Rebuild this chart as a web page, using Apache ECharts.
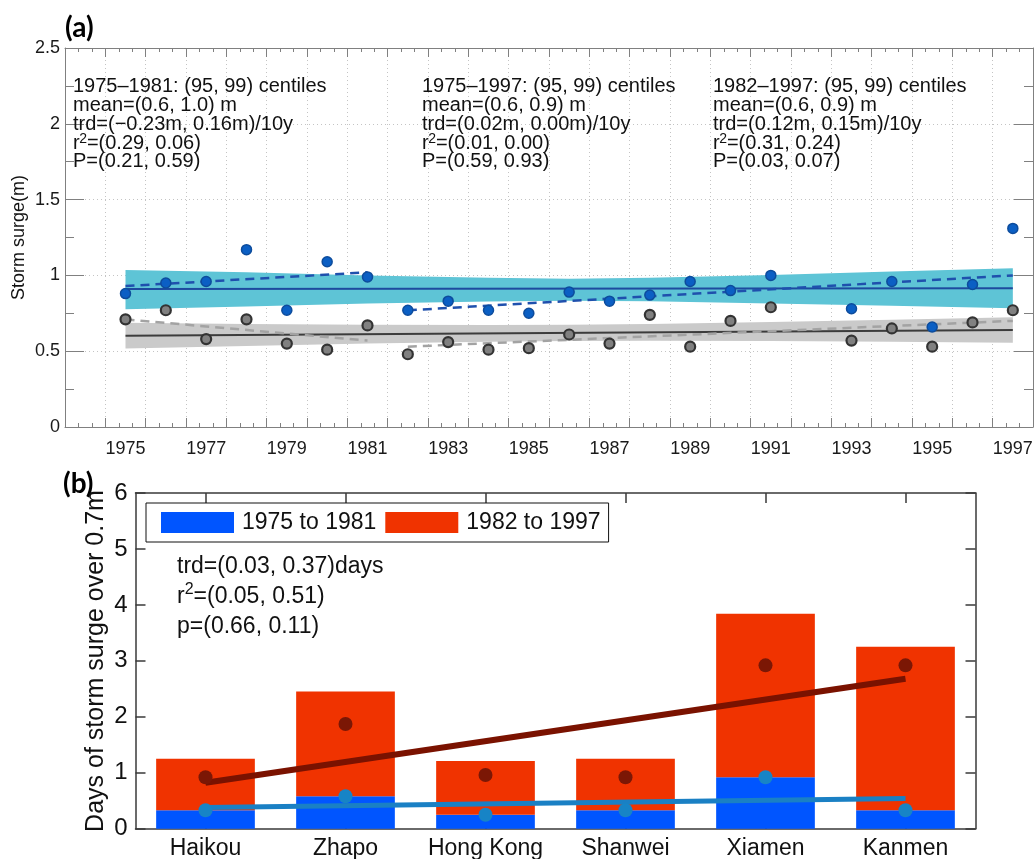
<!DOCTYPE html>
<html>
<head>
<meta charset="utf-8">
<script src="https://cdn.jsdelivr.net/npm/echarts@6/dist/echarts.min.js"></script>
<style>
html, body { margin: 0; padding: 0; background: #fff; }
#chart { width: 1035px; height: 859px; }
</style>
</head>
<body>
<div id="chart"></div>
<script>
// ---------- Panel (a): annual 95th / 99th centile storm surge ----------
const years = [1975, 1976, 1977, 1978, 1979, 1980, 1981, 1982, 1983, 1984, 1985,
               1986, 1987, 1988, 1989, 1990, 1991, 1993, 1994, 1995, 1996, 1997];
const p99 = [0.88, 0.95, 0.96, 1.17, 0.77, 1.09, 0.99, 0.77, 0.83, 0.77, 0.75,
             0.89, 0.83, 0.87, 0.96, 0.90, 1.00, 0.78, 0.96, 0.66, 0.94, 1.31];
const p95 = [0.71, 0.77, 0.58, 0.71, 0.55, 0.51, 0.67, 0.48, 0.56, 0.51, 0.52,
             0.61, 0.55, 0.74, 0.53, 0.70, 0.79, 0.57, 0.65, 0.53, 0.69, 0.77];

// whole-period fits (1975-1997)
const fitYears = [1975, 1997];
const fit99 = [0.910, 0.915];
const fit95 = [0.602, 0.640];
// sub-period fits
const earlyYears = [1975, 1981];
const early99 = [0.93, 1.02];
const early95 = [0.71, 0.57];
const lateYears = [1982, 1997];
const late99 = [0.77, 1.00];
const late95 = [0.53, 0.70];

// confidence bands of the whole-period fits
const bandYears = [1975, 1978, 1981, 1984, 1986, 1988, 1991, 1994, 1997];
const band99Upper = [1.036, 1.020, 1.000, 0.985, 0.978, 0.984, 1.003, 1.025, 1.047];
const band99Lower = [0.776, 0.795, 0.815, 0.828, 0.832, 0.830, 0.815, 0.800, 0.783];
const band95Upper = [0.687, 0.679, 0.674, 0.673, 0.675, 0.679, 0.692, 0.707, 0.724];
const band95Lower = [0.517, 0.535, 0.550, 0.563, 0.567, 0.569, 0.568, 0.563, 0.556];

const yearLabels = [1975, 1977, 1979, 1981, 1983, 1985, 1987, 1989, 1991, 1993, 1995, 1997];

// statistics blocks; {g|2} reserves room for the squared sign drawn raised
const statsEarly = ['1975\u20131981: (95, 99) centiles', 'mean=(0.6, 1.0) m',
  'trd=(\u22120.23m, 0.16m)/10y', 'r{g|2}=(0.29, 0.06)', 'P=(0.21, 0.59)'];
const statsAll = ['1975\u20131997: (95, 99) centiles', 'mean=(0.6, 0.9) m',
  'trd=(0.02m, 0.00m)/10y', 'r{g|2}=(0.01, 0.00)', 'P=(0.59, 0.93)'];
const statsLate = ['1982\u20131997: (95, 99) centiles', 'mean=(0.6, 0.9) m',
  'trd=(0.12m, 0.15m)/10y', 'r{g|2}=(0.31, 0.24)', 'P=(0.03, 0.07)'];

// ---------- Panel (b): days of storm surge over 0.7 m per station ----------
const stations = ['Haikou', 'Zhapo', 'Hong Kong', 'Shanwei', 'Xiamen', 'Kanmen'];
const days7581 = [0.33, 0.58, 0.25, 0.33, 0.92, 0.33];
const days8297 = [0.92, 1.87, 0.96, 0.92, 2.92, 2.92];
const trend7581 = [0.38, 0.54];   // fitted values at first / last station
const trend8297 = [0.82, 2.68];
const statsB = ['trd=(0.03, 0.37)days', 'r{s|2}=(0.05, 0.51)', 'p=(0.66, 0.11)'];

const FONT = '"Liberation Sans", Arial, Helvetica, sans-serif';
const frameA = '#808080';
const frameB = '#3a3a3a';

const pairs = (xs, ys) => xs.map((x, i) => [x, ys[i]]);
const endpoints = (vals) => stations.map((_, i) =>
  i === 0 ? vals[0] : (i === stations.length - 1 ? vals[1] : null));

function bandSeries(upper, lower, color) {
  return {
    type: 'custom', xAxisIndex: 0, yAxisIndex: 0, z: 1, silent: true,
    data: [[bandYears[0], upper[0]]],
    renderItem: function (params, api) {
      const top = bandYears.map((y, i) => api.coord([y, upper[i]]));
      const bottom = bandYears.map((y, i) => api.coord([y, lower[i]])).reverse();
      return { type: 'polygon', shape: { points: top.concat(bottom) }, style: { fill: color } };
    }
  };
}

function lineSeries(data, color, width, dashed, z) {
  return {
    type: 'line', xAxisIndex: 0, yAxisIndex: 0, data: data, symbol: 'none', z: z,
    lineStyle: { color: color, width: width, type: dashed ? [9, 6] : 'solid' }, silent: true
  };
}

function statsText(lines, x, y, size, lh, supSize, supLh) {
  return {
    type: 'text', x: x, y: y, z: 100,
    style: {
      text: lines.join('\n'), fontSize: size, fontFamily: FONT, fill: '#111',
      lineHeight: lh, align: 'left', verticalAlign: 'top', textAlign: 'left', textVerticalAlign: 'top',
      rich: {
        s: { fontSize: supSize, fontFamily: FONT, fill: '#111', lineHeight: supLh, verticalAlign: 'top' },
        g: { fontSize: supSize, fontFamily: FONT, fill: 'rgba(0,0,0,0)' }
      }
    }
  };
}

// raised "2" of r² in the panel (a) blocks (line 4 of each block)
function supText(x, y) {
  return {
    type: 'text', x: x, y: y, z: 101,
    style: { text: '2', fontSize: 14, fontFamily: FONT, fill: '#111',
             align: 'left', verticalAlign: 'top', textAlign: 'left', textVerticalAlign: 'top' }
  };
}

const valueAxisA = (pos) => ({
  gridIndex: 0, type: 'value', position: pos, min: 1973.5, max: 1997.5, interval: 1,
  axisLine: { show: true, onZero: false, lineStyle: { color: frameA, width: 1 } },
  axisTick: { show: true, inside: true, length: 9, lineStyle: { color: frameA } },
  minorTick: { show: true, splitNumber: 3, length: 4, lineStyle: { color: frameA } },
  axisLabel: pos === 'bottom'
    ? { show: true, customValues: yearLabels, margin: 13, fontSize: 18, color: '#1a1a1a', fontFamily: FONT,
        formatter: (v) => String(Math.round(v)) }
    : { show: false },
  splitLine: { show: pos === 'bottom', lineStyle: { color: '#c4c4c4', type: [1, 3], width: 1 } },
  minorSplitLine: { show: false }
});

const yAxisA = (pos) => ({
  gridIndex: 0, type: 'value', position: pos, min: 0, max: 2.5, interval: 0.5,
  axisLine: { show: true, onZero: false, lineStyle: { color: frameA, width: 1 } },
  axisTick: { show: true, inside: true, length: 19, lineStyle: { color: frameA } },
  minorTick: { show: true, splitNumber: 2, length: 9, lineStyle: { color: frameA } },
  axisLabel: pos === 'left'
    ? { show: true, margin: 5, fontSize: 18, color: '#1a1a1a', fontFamily: FONT }
    : { show: false },
  splitLine: { show: pos === 'left', lineStyle: { color: '#c4c4c4', type: [1, 3], width: 1 } }
});

const catAxisB = (pos) => ({
  gridIndex: 1, type: 'category', position: pos, data: stations, boundaryGap: true,
  axisLine: { show: true, onZero: false, lineStyle: { color: frameB, width: 1.5 } },
  axisTick: { show: true, inside: true, alignWithLabel: true, length: 10, lineStyle: { color: frameB, width: 1.5 } },
  axisLabel: pos === 'bottom'
    ? { show: true, margin: 8, fontSize: 23, color: '#111', fontFamily: FONT, interval: 0 }
    : { show: false },
  splitLine: { show: false }
});

const yAxisB = (pos) => ({
  gridIndex: 1, type: 'value', position: pos, min: 0, max: 6, interval: 1,
  axisLine: { show: true, onZero: false, lineStyle: { color: frameB, width: 1.5 } },
  axisTick: { show: true, inside: true, length: 10, lineStyle: { color: frameB, width: 1.5 } },
  axisLabel: pos === 'left'
    ? { show: true, margin: 8, fontSize: 24, color: '#111', fontFamily: FONT }
    : { show: false },
  splitLine: { show: false }
});

const statsTop = 77.6, statsLh = 18.7;
const supY = statsTop + 3 * statsLh - 1.5;

const option = {
  animation: false,
  backgroundColor: '#ffffff',
  textStyle: { fontFamily: FONT },
  grid: [
    { left: 65, top: 48, width: 968, height: 379, outerBoundsMode: 'none', containLabel: false },
    { left: 135.5, top: 493, width: 840, height: 335.7, outerBoundsMode: 'none', containLabel: false }
  ],
  xAxis: [valueAxisA('bottom'), valueAxisA('top'), catAxisB('bottom'), catAxisB('top')],
  yAxis: [yAxisA('left'), yAxisA('right'), yAxisB('left'), yAxisB('right')],
  legend: {
    left: 146, top: 503, orient: 'horizontal',
    data: ['1975 to 1981', '1982 to 1997'],
    icon: 'rect', itemWidth: 73, itemHeight: 21, itemGap: 9,
    padding: [8, 8, 8, 15],
    borderColor: '#111', borderWidth: 1, backgroundColor: '#fff', borderRadius: 0,
    selectedMode: false,
    textStyle: { fontSize: 23, color: '#111', fontFamily: FONT, padding: [0, 0, 0, 3] }
  },
  series: [
    // panel (a)
    bandSeries(band99Upper, band99Lower, '#5ec4d6'),
    bandSeries(band95Upper, band95Lower, '#cacaca'),
    lineSeries(pairs(fitYears, fit99), '#1d4a9e', 2, false, 3),
    lineSeries(pairs(fitYears, fit95), '#3c3c3c', 2, false, 3),
    lineSeries(pairs(earlyYears, early99), '#1f50ad', 2.5, true, 4),
    lineSeries(pairs(lateYears, late99), '#1f50ad', 2.5, true, 4),
    lineSeries(pairs(earlyYears, early95), '#a3a3a3', 2.5, true, 4),
    lineSeries(pairs(lateYears, late95), '#a3a3a3', 2.5, true, 4),
    {
      type: 'scatter', xAxisIndex: 0, yAxisIndex: 0, z: 6, silent: true,
      data: pairs(years, p95), symbol: 'circle', symbolSize: 10,
      itemStyle: { color: '#808080', borderColor: '#333333', borderWidth: 2.2, opacity: 1 }
    },
    {
      type: 'scatter', xAxisIndex: 0, yAxisIndex: 0, z: 7, silent: true,
      data: pairs(years, p99), symbol: 'circle', symbolSize: 10,
      itemStyle: { color: '#0b5fc4', borderColor: '#0d4c9c', borderWidth: 1.5, opacity: 1 }
    },
    // panel (b)
    {
      name: '1975 to 1981', type: 'bar', xAxisIndex: 2, yAxisIndex: 2, stack: 'days',
      data: days7581, barWidth: '70.5%', itemStyle: { color: '#0055ff' }, silent: true, z: 2
    },
    {
      name: '1982 to 1997', type: 'bar', xAxisIndex: 2, yAxisIndex: 2, stack: 'days',
      data: days8297, barWidth: '70.5%', itemStyle: { color: '#f03300' }, silent: true, z: 2
    },
    {
      type: 'line', xAxisIndex: 2, yAxisIndex: 2, data: endpoints(trend8297), connectNulls: true,
      symbol: 'none', lineStyle: { color: '#7a1200', width: 6, cap: 'butt' }, z: 4, silent: true
    },
    {
      type: 'line', xAxisIndex: 2, yAxisIndex: 2, data: endpoints(trend7581), connectNulls: true,
      symbol: 'none', lineStyle: { color: '#1a80c4', width: 5, cap: 'butt' }, z: 4, silent: true
    },
    {
      type: 'scatter', xAxisIndex: 2, yAxisIndex: 2, data: days8297, symbol: 'circle', symbolSize: 14,
      itemStyle: { color: '#7b1705', opacity: 1 }, z: 5, silent: true
    },
    {
      type: 'scatter', xAxisIndex: 2, yAxisIndex: 2, data: days7581, symbol: 'circle', symbolSize: 14,
      itemStyle: { color: '#1784c6', opacity: 1 }, z: 5, silent: true
    }
  ],
  graphic: [
    { type: 'text', x: 65, y: 14, z: 100,
      style: { text: '(a)', fontSize: 28, fontWeight: 'bold', fontFamily: 'Lato, "Open Sans", sans-serif', fill: '#000',
               align: 'left', verticalAlign: 'top', textAlign: 'left', textVerticalAlign: 'top' } },
    { type: 'text', x: 63, y: 470, z: 100,
      style: { text: '(b)', fontSize: 28, fontWeight: 'bold', fontFamily: 'Lato, "Open Sans", sans-serif', fill: '#000',
               align: 'left', verticalAlign: 'top', textAlign: 'left', textVerticalAlign: 'top' } },
    { type: 'text', x: 19, y: 237.5, rotation: Math.PI / 2, z: 100,
      style: { text: 'Storm surge(m)', fontSize: 18, fontFamily: FONT, fill: '#111',
               align: 'center', verticalAlign: 'middle', textAlign: 'center', textVerticalAlign: 'middle' } },
    { type: 'text', x: 96, y: 661, rotation: Math.PI / 2, z: 100,
      style: { text: 'Days of storm surge over 0.7m', fontSize: 25, fontFamily: FONT, fill: '#111',
               align: 'center', verticalAlign: 'middle', textAlign: 'center', textVerticalAlign: 'middle' } },
    statsText(statsEarly, 73, statsTop, 20, statsLh, 13, 13),
    statsText(statsAll, 422, statsTop, 20, statsLh, 13, 13),
    statsText(statsLate, 713, statsTop, 20, statsLh, 13, 13),
    supText(73 + 6.2, supY),
    supText(422 + 6.2, supY),
    supText(713 + 6.2, supY),
    statsText(statsB, 177, 551.5, 23, 30, 16, 14)
  ]
};

const chart = echarts.init(document.getElementById('chart'), null, { renderer: 'canvas' });
chart.setOption(option);
</script>
</body>
</html>
